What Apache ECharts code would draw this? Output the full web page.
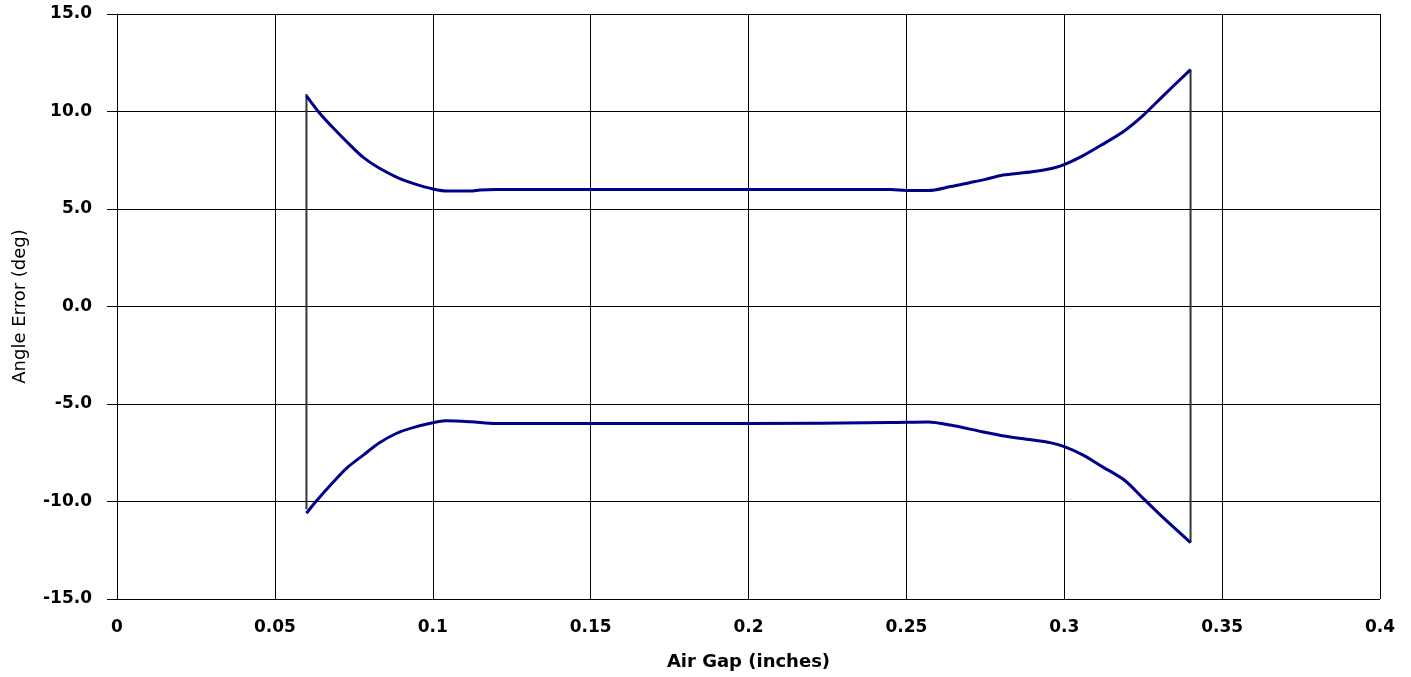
<!DOCTYPE html>
<html>
<head>
<meta charset="utf-8">
<style>html,body{margin:0;padding:0;background:#fff}#c{width:1411px;height:677px}</style>
<script src="https://cdn.jsdelivr.net/npm/echarts@6/dist/echarts.min.js"></script>
</head>
<body>
<div id="c"></div>
<script>
const xTicks = [0, 0.05, 0.1, 0.15, 0.2, 0.25, 0.3, 0.35, 0.4];
const yTicks = [-15, -10, -5, 0, 5, 10, 15];

const upperX = [0.060, 0.064, 0.0685, 0.074, 0.078, 0.083, 0.089, 0.094, 0.100, 0.105, 0.112, 0.115, 0.12, 0.15, 0.20, 0.245, 0.25, 0.257, 0.264, 0.270, 0.275, 0.280, 0.285, 0.291, 0.296, 0.300, 0.306, 0.312, 0.319, 0.325, 0.331, 0.340];
const upperY = [10.8, 9.95, 9.15, 8.25, 7.65, 7.1, 6.6, 6.3, 6.03, 5.92, 5.92, 5.98, 6.0, 6.0, 6.0, 6.0, 5.95, 5.95, 6.15, 6.35, 6.52, 6.72, 6.82, 6.94, 7.08, 7.28, 7.74, 8.3, 9.0, 9.8, 10.75, 12.15];

const lowerX = [0.060, 0.063, 0.0685, 0.073, 0.078, 0.083, 0.0886, 0.094, 0.100, 0.104, 0.112, 0.12, 0.15, 0.20, 0.245, 0.257, 0.264, 0.274, 0.281, 0.290, 0.2955, 0.300, 0.306, 0.312, 0.319, 0.325, 0.331, 0.340];
const lowerY = [-10.6, -10.0, -9.0, -8.25, -7.62, -7.0, -6.5, -6.2, -5.96, -5.86, -5.91, -6.0, -6.0, -6.0, -5.95, -5.92, -6.08, -6.42, -6.64, -6.85, -6.98, -7.19, -7.62, -8.21, -8.9, -9.84, -10.78, -12.11];

const leftBarX = [0.06, 0.06];
const leftBarY = [10.9, -10.4];
const rightBarX = [0.34, 0.34];
const rightBarY = [12.15, -12.1];

const zip = (xs, ys) => xs.map((x, i) => [x, ys[i]]);
const font = 'DejaVu Sans, sans-serif';

const chart = echarts.init(document.getElementById('c'), null, {renderer: 'canvas'});
chart.setOption({
  animation: false,
  backgroundColor: '#fff',
  grid: {left: 117, right: 31, top: 14, bottom: 78, containLabel: false, outerBoundsMode: 'none'},
  xAxis: {
    type: 'value', min: xTicks[0], max: xTicks[xTicks.length - 1], interval: 0.05,
    name: 'Air Gap (inches)', nameLocation: 'middle', nameGap: 54,
    nameTextStyle: {fontFamily: font, fontSize: 18, fontWeight: 'bold', color: '#000'},
    axisLine: {lineStyle: {color: '#000', width: 1}},
    axisTick: {show: true, length: 6, lineStyle: {color: '#000'}},
    axisLabel: {fontFamily: font, fontSize: 17, fontWeight: 'bold', color: '#000', margin: 20,
      formatter: v => String(parseFloat(v.toFixed(2)))},
    splitLine: {show: true, lineStyle: {color: '#000', width: 1}}
  },
  yAxis: {
    type: 'value', min: yTicks[0], max: yTicks[yTicks.length - 1], interval: 5,
    name: 'Angle Error (deg)', nameLocation: 'middle', nameGap: 88,
    nameTextStyle: {fontFamily: font, fontSize: 18, color: '#000'},
    axisLine: {show: true, lineStyle: {color: '#000', width: 1}},
    axisTick: {show: true, length: 10, lineStyle: {color: '#000'}},
    axisLabel: {fontFamily: font, fontSize: 17, fontWeight: 'bold', color: '#000', margin: 25,
      formatter: v => v.toFixed(1)},
    splitLine: {show: true, lineStyle: {color: '#000', width: 1}}
  },
  series: [
    {type: 'line', data: zip(leftBarX, leftBarY), symbol: 'none', lineStyle: {color: '#333', width: 2}, z: 1},
    {type: 'line', data: zip(rightBarX, rightBarY), symbol: 'none', lineStyle: {color: '#333', width: 2}, z: 1},
    {type: 'line', data: zip(upperX, upperY), symbol: 'none', smooth: 0.3, lineStyle: {color: '#000088', width: 3}, z: 3},
    {type: 'line', data: zip(lowerX, lowerY), symbol: 'none', smooth: 0.3, lineStyle: {color: '#000088', width: 3}, z: 3}
  ]
});
</script>
</body>
</html>
